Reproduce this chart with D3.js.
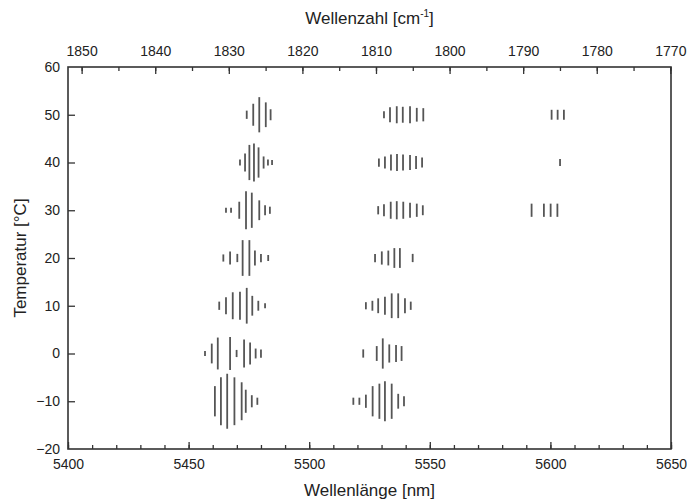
<!DOCTYPE html>
<html>
<head>
<meta charset="utf-8">
<script src="https://cdn.jsdelivr.net/npm/d3@7"></script>
<style>
  body { margin: 0; background: #fff; }
  svg { display: block; font-family: 'Liberation Sans', Arial, sans-serif; }
  .tick-label { font-size: 14px; fill: #222; }
  .axis-title { font-size: 17px; fill: #222; }
</style>
</head>
<body>
<div class="chart-box"></div>
<script>
// temperatures of the measured rows [°C]
const temperatures = [50, 40, 30, 20, 10, 0, -10];

// spectral lines per row: [wavelength nm, relative intensity]
const lines50 = [
  [5474.1, 15], [5476.8, 40], [5479.3, 64], [5482.0, 45], [5484.0, 20],
  [5531.0, 13], [5533.5, 27], [5536.3, 31], [5538.8, 29], [5541.8, 31], [5544.6, 25], [5547.3, 24],
  [5600.5, 18], [5603.0, 18], [5605.6, 18]
];
const lines40 = [
  [5471.3, 11], [5473.4, 33], [5475.2, 64], [5477.1, 69], [5479.0, 55], [5481.1, 22], [5482.9, 11], [5484.6, 9],
  [5528.9, 15], [5531.4, 22], [5533.9, 29], [5536.4, 31], [5538.9, 29], [5541.8, 27], [5544.3, 24], [5546.8, 18],
  [5604.0, 13]
];
const lines30 = [
  [5465.5, 9], [5467.6, 9], [5471.0, 31], [5473.8, 69], [5476.2, 64], [5479.3, 36], [5481.7, 18], [5483.7, 13],
  [5528.6, 15], [5531.0, 22], [5533.8, 31], [5536.3, 33], [5539.0, 31], [5541.8, 27], [5544.6, 24], [5547.1, 18],
  [5592.2, 24], [5597.3, 24], [5600.1, 24], [5602.9, 24]
];
const lines20 = [
  [5464.4, 13], [5467.2, 24], [5470.2, 15], [5472.4, 65], [5475.2, 65], [5477.5, 27], [5480.0, 15], [5483.0, 11],
  [5527.3, 15], [5530.1, 24], [5532.8, 27], [5535.3, 36], [5537.6, 36], [5542.9, 15]
];
const lines10 = [
  [5462.7, 15], [5465.5, 31], [5468.3, 49], [5471.3, 51], [5474.1, 65], [5476.4, 36], [5478.9, 18], [5481.7, 9],
  [5523.5, 13], [5526.2, 18], [5528.6, 27], [5531.4, 33], [5534.2, 45], [5536.9, 45], [5539.7, 27], [5542.1, 15]
];
const lines0 = [
  [5456.8, 9], [5459.6, 36], [5462.1, 58], [5467.2, 60], [5469.9, 13], [5473.0, 51], [5475.5, 40], [5477.8, 18], [5480.0, 15],
  [5522.4, 15], [5528.0, 27], [5530.5, 55], [5533.2, 33], [5536.0, 31], [5538.3, 27]
];
const linesM10 = [
  [5460.9, 55], [5463.4, 87], [5466.0, 100], [5469.0, 87], [5472.0, 69], [5473.7, 42], [5476.2, 22], [5478.5, 13],
  [5518.3, 13], [5520.8, 13], [5523.5, 24], [5526.3, 55], [5529.1, 64], [5531.4, 73], [5534.2, 64], [5536.9, 27], [5539.3, 18]
];
const rows = [lines50, lines40, lines30, lines20, lines10, lines0, linesM10];

// axis ticks
const wavelengthTicks = [5400, 5450, 5500, 5550, 5600, 5650];
const wavenumberTicks = [1850, 1840, 1830, 1820, 1810, 1800, 1790, 1780, 1770];
const temperatureTicks = [-20, -10, 0, 10, 20, 30, 40, 50, 60];

const dimensions = { width: 687, height: 502 };
const margin = { top: 67, right: 16, bottom: 53, left: 68 };
const plot = {
  x0: margin.left,
  x1: dimensions.width - margin.right,
  y0: margin.top,
  y1: dimensions.height - margin.bottom
};

const x = d3.scaleLinear().domain([5400, 5650]).range([plot.x0, plot.x1]);
// top axis: wavenumber in cm^-1 (1e7 / nm)
const xTop = d3.scaleLinear().domain([1e7 / 5400, 1e7 / 5650]).range([plot.x0, plot.x1]);
const y = d3.scaleLinear().domain([-20, 60]).range([plot.y1, plot.y0]);
// bar length in pixels for a given intensity
const h = d3.scaleLinear().domain([0, 100]).range([0, 55]);

const svg = d3
  .select('.chart-box')
  .append('svg')
  .attr('width', dimensions.width)
  .attr('height', dimensions.height);

const axisColor = '#333';

// ===================== AXES ===================== //
const bottomAxis = svg
  .append('g')
  .attr('transform', `translate(0, ${plot.y1})`)
  .call(d3.axisBottom(x).tickValues(d3.range(5400, 5651, 10)).tickSize(-4).tickFormat(''));
const bottomMajor = svg
  .append('g')
  .attr('transform', `translate(0, ${plot.y1})`)
  .call(d3.axisBottom(x).tickValues(wavelengthTicks).tickSize(-7).tickPadding(10).tickFormat(d3.format('d')));

const topAxis = svg
  .append('g')
  .attr('transform', `translate(0, ${plot.y0})`)
  .call(d3.axisTop(xTop).tickValues(d3.range(1850, 1769, -5)).tickSize(-4).tickFormat(''));
const topMajor = svg
  .append('g')
  .attr('transform', `translate(0, ${plot.y0})`)
  .call(d3.axisTop(xTop).tickValues(wavenumberTicks).tickSize(-7).tickPadding(11).tickFormat(d3.format('d')));

const leftAxis = svg
  .append('g')
  .attr('transform', `translate(${plot.x0}, 0)`)
  .call(d3.axisLeft(y).tickValues(temperatureTicks).tickSize(-7).tickPadding(8).tickFormat(d3.format('d')));

[bottomAxis, bottomMajor, topAxis, topMajor, leftAxis].forEach((g) => {
  g.select('.domain').remove();
  g.selectAll('.tick line').attr('stroke', axisColor).attr('stroke-width', 1.3);
  g.selectAll('.tick text').attr('class', 'tick-label').attr('fill', '#222');
});
// the first/last temperature tick sits on the frame
leftAxis.selectAll('.tick line').filter((d) => d === -20 || d === 60).remove();

// frame
svg
  .append('rect')
  .attr('x', plot.x0)
  .attr('y', plot.y0)
  .attr('width', plot.x1 - plot.x0)
  .attr('height', plot.y1 - plot.y0)
  .attr('fill', 'none')
  .attr('stroke', axisColor)
  .attr('stroke-width', 1.6);

// ===================== TITLES ===================== //
svg
  .append('text')
  .attr('class', 'axis-title')
  .attr('x', (plot.x0 + plot.x1) / 2)
  .attr('y', 496)
  .attr('text-anchor', 'middle')
  .text('Wellenlänge [nm]');

const topTitle = svg
  .append('text')
  .attr('class', 'axis-title')
  .attr('x', (plot.x0 + plot.x1) / 2)
  .attr('y', 24)
  .attr('text-anchor', 'middle');
topTitle.append('tspan').text('Wellenzahl [cm');
topTitle.append('tspan').attr('dy', -7).style('font-size', '10px').text('-1');
topTitle.append('tspan').attr('dy', 7).text(']');

svg
  .append('text')
  .attr('class', 'axis-title')
  .attr('transform', `translate(26, ${(plot.y0 + plot.y1) / 2}) rotate(-90)`)
  .attr('text-anchor', 'middle')
  .text('Temperatur [°C]');

// ===================== SPECTRAL LINES ===================== //
const graph = svg.append('g');
rows.forEach((row, i) => {
  const t = temperatures[i];
  graph
    .append('g')
    .selectAll('line')
    .data(row)
    .enter()
    .append('line')
    .attr('x1', (d) => x(d[0]))
    .attr('x2', (d) => x(d[0]))
    .attr('y1', (d) => y(t) - h(d[1]) / 2)
    .attr('y2', (d) => y(t) + h(d[1]) / 2)
    .attr('stroke', '#555')
    .attr('stroke-width', 1.8);
});
</script>
</body>
</html>
